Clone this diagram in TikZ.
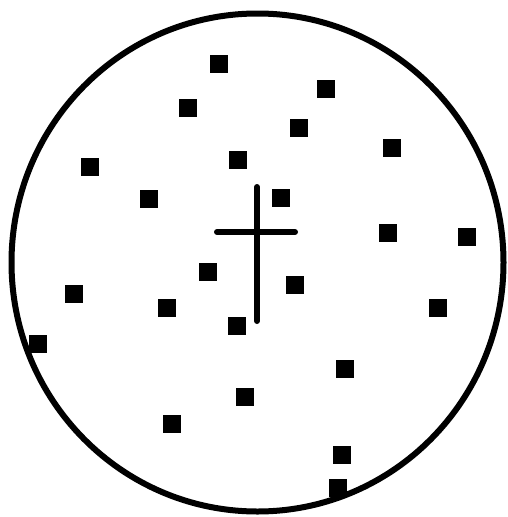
\documentclass[tikz,border=0pt]{standalone}
\begin{document}
\begin{tikzpicture}[x=1pt,y=-1pt,
  dot/.style={fill=black,draw=none,minimum size=18pt,inner sep=0pt,rectangle},
  rim/.style={line width=6pt,draw=black},
  crossline/.style={line width=6pt,line cap=round,draw=black}]
\useasboundingbox[fill=white] (0,0) rectangle (508,517);
\draw[rim] (257.5,262.5) ellipse [x radius=246, y radius=249];
\foreach \p [count=\i] in {(219,64),(326,89),(188,108),(299,128),(392,148),(90,167),(238,160),(149,199),(281,198),(388,233),(467,237),(208,272),(74,294),(295,285),(167,308),(438,308),(237,326),(38,344),(345,369),(245,397),(172,424),(342,455),(338,488)}
  \node[dot] (s\i) at \p {};
\coordinate (vt) at (257,187);
\coordinate (vb) at (257,321);
\coordinate (hl) at (217,232);
\coordinate (hr) at (295,232);
\draw[crossline] (vt) -- (vb);
\draw[crossline] (hl) -- (hr);
\end{tikzpicture}
\end{document}
